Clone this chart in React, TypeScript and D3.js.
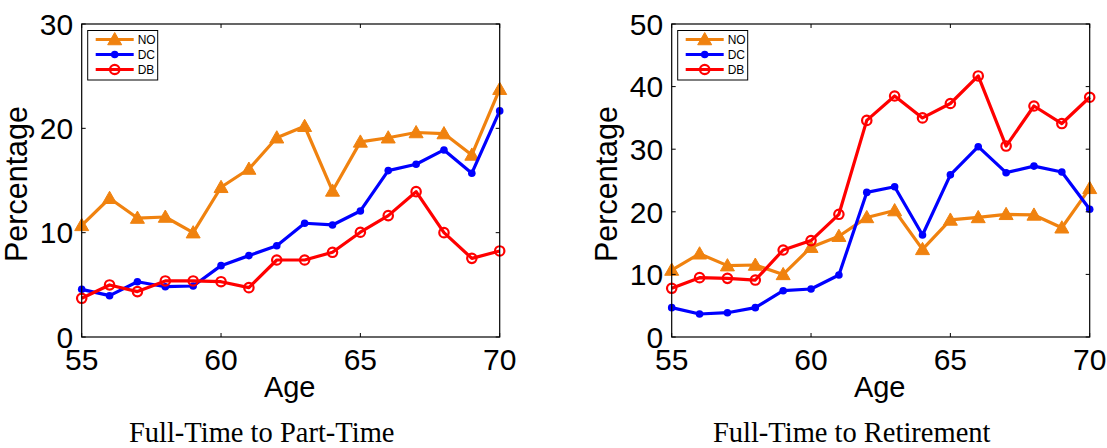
import React from "react";
import * as d3 from "d3";

const ages = [55, 56, 57, 58, 59, 60, 61, 62, 63, 64, 65, 66, 67, 68, 69, 70];

const ptNO = [10.7, 13.3, 11.4, 11.5, 10.0, 14.35, 16.1, 19.1, 20.2, 14.0, 18.7, 19.1, 19.6, 19.5, 17.45, 23.75];
const ptDC = [4.57, 3.96, 5.3, 4.82, 4.89, 6.84, 7.8, 8.75, 10.9, 10.74, 12.08, 15.95, 16.56, 17.93, 15.7, 21.67];
const ptDB = [3.71, 4.99, 4.35, 5.37, 5.37, 5.3, 4.73, 7.38, 7.38, 8.12, 10.04, 11.63, 13.93, 10.0, 7.54, 8.25];

const rtNO = [10.7, 13.3, 11.4, 11.5, 10.0, 14.35, 16.1, 19.1, 20.2, 14.0, 18.7, 19.1, 19.6, 19.5, 17.45, 23.75];
const rtDC = [4.69, 3.67, 3.88, 4.69, 7.4, 7.67, 9.9, 23.1, 24.0, 16.3, 25.9, 30.4, 26.25, 27.3, 26.36, 20.4];
const rtDB = [7.78, 9.48, 9.37, 9.1, 13.9, 15.4, 19.6, 34.6, 38.5, 35.0, 37.3, 41.7, 30.5, 36.9, 34.1, 38.3];

const xTicks = [55, 60, 65, 70];
const ptYTicks = [0, 10, 20, 30];
const rtYTicks = [0, 10, 20, 30, 40, 50];
const seriesNames = ["NO", "DC", "DB"];
const captions = ["Full-Time to Part-Time", "Full-Time to Retirement"];

const COLORS: Record<string, string> = { NO: "#F0820F", DC: "#0000FF", DB: "#FF0000" };
const SANS = "Liberation Sans, Arial, Helvetica, sans-serif";
const SERIF = "Liberation Serif, Times New Roman, serif";

function Marker({ name, x, y }: { name: string; x: number; y: number }) {
  const c = COLORS[name];
  if (name === "NO") {
    const s = 7;
    return (
      <path
        d={`M${x},${y - s} L${x + s},${y + s * 0.75} L${x - s},${y + s * 0.75} Z`}
        fill={c}
        stroke={c}
        strokeWidth={1}
      />
    );
  }
  if (name === "DC") return <circle cx={x} cy={y} r={3.8} fill={c} />;
  return <circle cx={x} cy={y} r={4.7} fill="none" stroke={c} strokeWidth={2.2} />;
}

function Panel({
  left,
  yMax,
  yTicks,
  data,
  caption,
}: {
  left: number;
  yMax: number;
  yTicks: number[];
  data: number[][];
  caption: string;
}) {
  const top = 24;
  const bottom = 337;
  const width = 418;
  const x = d3.scaleLinear().domain([55, 70]).range([left, left + width]);
  const y = d3.scaleLinear().domain([0, yMax]).range([bottom, top]);
  const line = d3
    .line<[number, number]>()
    .x((d) => x(d[0]))
    .y((d) => y(d[1]));
  const order = [0, 1, 2];
  const tl = 4;
  return (
    <g>
      {order.map((si) => {
        const name = seriesNames[si];
        const pts = ages.map((a, i) => [a, data[si][i]] as [number, number]);
        return (
          <g key={name}>
            <path d={line(pts) || ""} fill="none" stroke={COLORS[name]} strokeWidth={3.2} strokeLinejoin="round" />
            {pts.map((p, i) => (
              <Marker key={i} name={name} x={x(p[0])} y={y(p[1])} />
            ))}
          </g>
        );
      })}
      <rect x={left} y={top} width={width} height={bottom - top} fill="none" stroke="#000" strokeWidth={1.2} />
      {xTicks.map((t) => (
        <g key={"x" + t}>
          <line x1={x(t)} x2={x(t)} y1={bottom} y2={bottom - tl} stroke="#000" />
          <line x1={x(t)} x2={x(t)} y1={top} y2={top + tl} stroke="#000" />
          <text x={x(t)} y={370} textAnchor="middle" fontSize={30} fontFamily={SANS}>
            {t}
          </text>
        </g>
      ))}
      {yTicks.map((t) => (
        <g key={"y" + t}>
          <line x1={left} x2={left + tl} y1={y(t)} y2={y(t)} stroke="#000" />
          <line x1={left + width} x2={left + width - tl} y1={y(t)} y2={y(t)} stroke="#000" />
          <text x={left - 8.5} y={y(t) + 10.8} textAnchor="end" fontSize={30} fontFamily={SANS}>
            {t}
          </text>
        </g>
      ))}
      <text x={left + width / 2 - 1} y={396.5} textAnchor="middle" fontSize={29} fontFamily={SANS}>
        Age
      </text>
      <text
        transform={`translate(${left - 55},${184}) rotate(-90)`}
        textAnchor="middle"
        fontSize={30.5}
        fontFamily={SANS}
      >
        Percentage
      </text>
      <text x={left + width / 2 - 29} y={442} textAnchor="middle" fontSize={28.5} fontFamily={SERIF}>
        {caption}
      </text>
      <g>
        <rect x={left + 6} y={30.5} width={70} height={49.5} fill="#fff" stroke="#000" strokeWidth={1} />
        {seriesNames.map((n, i) => {
          const ly = 39.5 + i * 15;
          return (
            <g key={n}>
              <line x1={left + 14} x2={left + 52} y1={ly} y2={ly} stroke={COLORS[n]} strokeWidth={3} />
              <Marker name={n} x={left + 33} y={ly} />
              <text x={left + 56} y={ly + 4.3} fontSize={12} fontFamily={SANS}>
                {n}
              </text>
            </g>
          );
        })}
      </g>
    </g>
  );
}

export default function App() {
  return (
    <svg width={1107} height={448} style={{ position: "absolute", left: 0, top: 0 }}>
      <rect width={1107} height={448} fill="#fff" />
      <Panel left={81.7} yMax={30} yTicks={ptYTicks} data={[ptNO, ptDC, ptDB]} caption={captions[0]} />
      <Panel left={671.7} yMax={50} yTicks={rtYTicks} data={[rtNO, rtDC, rtDB]} caption={captions[1]} />
    </svg>
  );
}
